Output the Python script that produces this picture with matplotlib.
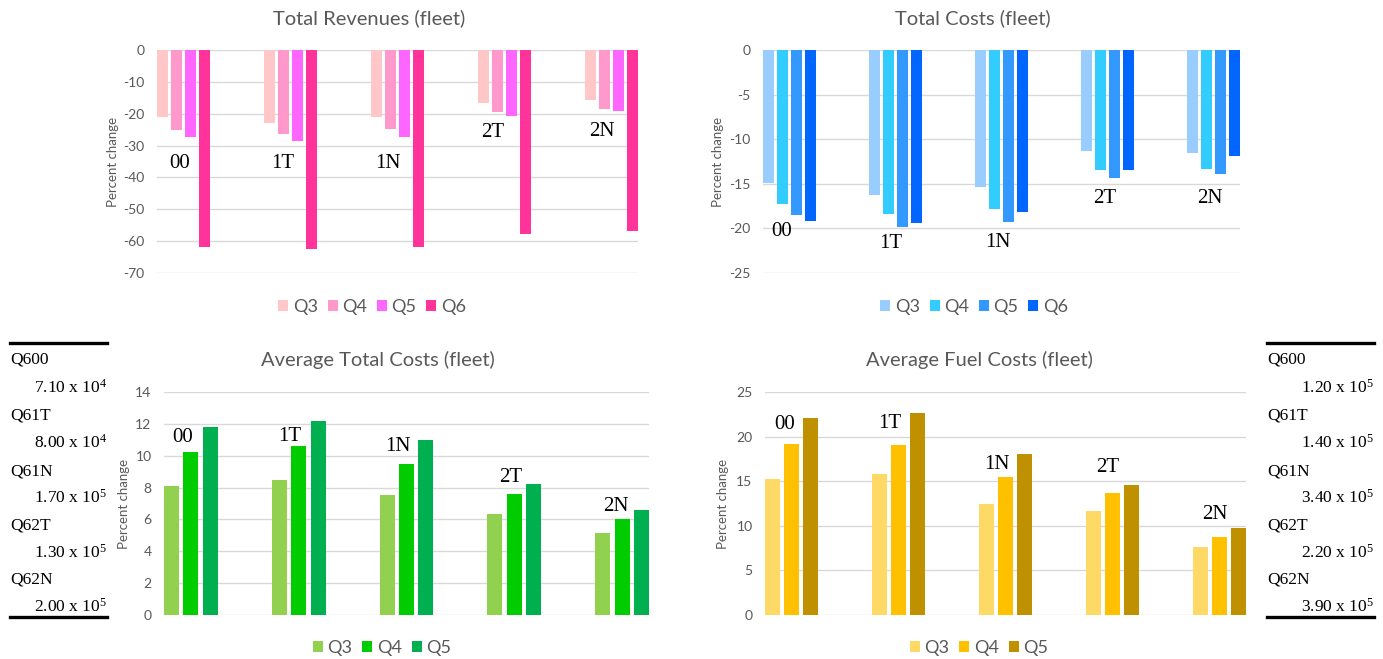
import matplotlib
matplotlib.use("Agg")
import matplotlib.pyplot as plt
import numpy as np
from matplotlib.lines import Line2D

plt.rcParams['font.family'] = ['Lato', 'DejaVu Sans']
plt.rcParams['mathtext.fontset'] = 'custom'
plt.rcParams['mathtext.rm'] = 'Liberation Serif'
plt.rcParams['mathtext.it'] = 'Liberation Serif:italic'

# ---- data ----
groups = ["00", "1T", "1N", "2T", "2N"]

rev_series = ["Q3", "Q4", "Q5", "Q6"]
rev_q3 = [-21.1, -22.8, -21.1, -16.5, -15.6]
rev_q4 = [-25.1, -26.4, -24.9, -19.6, -18.4]
rev_q5 = [-27.3, -28.5, -27.3, -20.8, -19.2]
rev_q6 = [-61.8, -62.4, -61.8, -57.8, -56.7]

cost_series = ["Q3", "Q4", "Q5", "Q6"]
cost_q3 = [-14.9, -16.2, -15.4, -11.3, -11.5]
cost_q4 = [-17.3, -18.4, -17.8, -13.5, -13.3]
cost_q5 = [-18.5, -19.85, -19.3, -14.4, -13.9]
cost_q6 = [-19.2, -19.4, -18.2, -13.5, -11.9]

atc_series = ["Q3", "Q4", "Q5"]
atc_q3 = [8.1, 8.46, 7.54, 6.37, 5.14]
atc_q4 = [10.26, 10.63, 9.47, 7.6, 6.04]
atc_q5 = [11.8, 12.2, 11.0, 8.23, 6.6]

afc_series = ["Q3", "Q4", "Q5"]
afc_q3 = [15.2, 15.8, 12.4, 11.7, 7.57]
afc_q4 = [19.2, 19.1, 15.45, 13.7, 8.8]
afc_q5 = [22.1, 22.65, 18.0, 14.55, 9.7]

left_names = ["Q600", "Q61T", "Q61N", "Q62T", "Q62N"]
left_vals = [r"7.10 x 10$^{4}$", r"8.00 x 10$^{4}$", r"1.70 x 10$^{5}$",
             r"1.30 x 10$^{5}$", r"2.00 x 10$^{5}$"]
right_names = ["Q600", "Q61T", "Q61N", "Q62T", "Q62N"]
right_vals = [r"1.20 x 10$^{5}$", r"1.40 x 10$^{5}$", r"3.40 x 10$^{5}$",
              r"2.20 x 10$^{5}$", r"3.90 x 10$^{5}$"]

W, H = 1383, 659
fig = plt.figure(figsize=(W / 100, H / 100), dpi=100)
fig.patch.set_facecolor("white")

GREY = "#595959"


def px_axes(x0, y0, x1, y1):
    return fig.add_axes([x0 / W, 1 - y1 / H, (x1 - x0) / W, (y1 - y0) / H])


def draw_panel(rect, title, title_xy, ylab_x, legend_xy, series_names, series,
               colors, ylim, yticks, labels, label_pos, bar_w, pitch):
    ax = px_axes(*rect)
    x = np.arange(len(groups))
    n = len(series)
    handles = []
    for i, (vals, c) in enumerate(zip(series, colors)):
        off = (i - (n - 1) / 2) * pitch
        b = ax.bar(x + off, vals, width=bar_w, color=c, zorder=3,
                   label=series_names[i])
        handles.append(b)
    half = ((n - 1) / 2) * pitch + bar_w / 2
    ax.set_xlim(-half, len(groups) - 1 + half)
    ax.set_ylim(*ylim)
    ax.set_yticks(yticks)
    ax.set_yticklabels([str(t) for t in yticks])
    ax.tick_params(axis='y', length=0, pad=9, labelsize=10, labelcolor=GREY)
    ax.set_xticks([])
    ax.grid(axis='y', color="#D9D9D9", lw=1, zorder=0)
    for s in ax.spines.values():
        s.set_visible(False)
    for lab, (lx, ly) in zip(labels, label_pos):
        ax.text(lx, ly, lab, ha='center', va='center', fontsize=15,
                family='Liberation Serif', color='black', zorder=5)
    fig.text(title_xy[0] / W, 1 - title_xy[1] / H, title, ha='center',
             va='center', fontsize=14.5, color=GREY)
    yc = (rect[1] + rect[3]) / 2
    fig.text(ylab_x / W, 1 - yc / H, "Percent change", rotation=90,
             ha='center', va='center', fontsize=9.5, color=GREY)
    leg = fig.legend(handles=handles, loc='center',
                     bbox_to_anchor=(legend_xy[0] / W, 1 - legend_xy[1] / H),
                     ncol=n, frameon=False, fontsize=13, handlelength=0.55,
                     handleheight=0.55, handletextpad=0.25, columnspacing=0.55)
    for t in leg.get_texts():
        t.set_color(GREY)
    return ax


# Total Revenues
draw_panel((157, 50, 638, 273), "Total Revenues (fleet)", (369, 18), 113,
           (372, 307), rev_series, [rev_q3, rev_q4, rev_q5, rev_q6],
           ["#FFC7C7", "#FF99CC", "#FF66FF", "#FF3399"],
           (-70, 0), list(range(-70, 1, 10)), groups,
           [(-0.04, -35.5), (0.925, -35.5), (1.91, -35.5), (2.89, -26.0),
            (3.91, -25.5)], 0.103, 0.131)

# Total Costs
draw_panel((763, 50, 1240, 273), "Total Costs (fleet)", (973, 18), 718,
           (974, 307), cost_series, [cost_q3, cost_q4, cost_q5, cost_q6],
           ["#99CCFF", "#33CCFF", "#3399FF", "#0066FF"],
           (-25, 0), list(range(-25, 1, 5)), groups,
           [(-0.07, -20.3), (0.96, -21.7), (1.97, -21.6), (2.97, -16.6),
            (3.96, -16.6)], 0.103, 0.131)

# Average Total Costs
draw_panel((164, 392, 649, 615), "Average Total Costs (fleet)", (378, 360), 124,
           (382, 648), atc_series, [atc_q3, atc_q4, atc_q5],
           ["#92D050", "#00CC00", "#00B050"],
           (0, 14), list(range(0, 15, 2)), groups,
           [(-0.08, 11.16), (0.92, 11.2), (1.92, 10.6), (2.97, 8.65),
            (3.94, 6.83)], 0.139, 0.18)

# Average Fuel Costs
draw_panel((765, 392, 1246, 615), "Average Fuel Costs (fleet)", (979, 360), 723,
           (979, 648), afc_series, [afc_q3, afc_q4, afc_q5],
           ["#FFD966", "#FFC000", "#BF9000"],
           (0, 25), list(range(0, 26, 5)), groups,
           [(-0.07, 21.4), (0.92, 21.5), (1.92, 16.9), (2.96, 16.5),
            (3.96, 11.3)], 0.139, 0.18)


# Fleet size tables on both sides
def draw_table(x0, x1, names, vals):
    for yy in (343, 617):
        fig.add_artist(Line2D([x0 / W, x1 / W], [1 - yy / H, 1 - yy / H],
                              color='black', lw=2.4))
    name_y = [360, 416, 471, 526, 580]
    val_y = [388, 443, 498, 553, 607]
    for nm, v, ny, vy in zip(names, vals, name_y, val_y):
        fig.text(x0 / W, 1 - ny / H, nm, ha='left', va='center',
                 fontsize=12.5, family='Liberation Serif')
        fig.text(x1 / W, 1 - vy / H, v, ha='right', va='center',
                 fontsize=12.5, family='Liberation Serif')


draw_table(10, 107, left_names, left_vals)
draw_table(1267, 1374, right_names, right_vals)

fig.savefig("out.png", dpi=100, facecolor="white")
